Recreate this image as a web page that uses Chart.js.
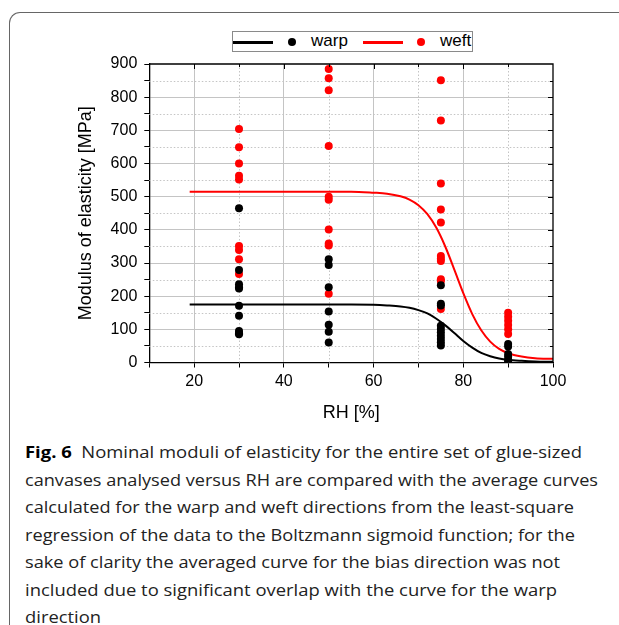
<!DOCTYPE html>
<html>
<head>
<meta charset="utf-8">
<script src="https://cdn.jsdelivr.net/npm/chart.js@4.4.1/dist/chart.umd.min.js"></script>
<style>
  html, body { margin: 0; padding: 0; background: #fff; }
  body { width: 619px; height: 625px; position: relative; overflow: hidden; }
  #frame {
    position: absolute; left: 9px; top: 12px; width: 640px; height: 640px;
    border-left: 1.5px solid #666; border-top: 1.5px solid #666;
    border-top-left-radius: 11px;
  }
  #chartBox { position: absolute; left: 0; top: 0; width: 619px; height: 430px; }
  #legend {
    position: absolute; left: 232px; top: 31px; width: 239px; height: 19px;
    border: 1px solid #8a8a8a; background: #fff;
    font-family: "Liberation Sans", Arial, sans-serif; font-size: 17px; color: #000;
  }
  #legend .ln { position: absolute; top: 9px; width: 40px; height: 2.5px; }
  #legend .dot { position: absolute; top: 6px; width: 8px; height: 8px; border-radius: 50%; }
  #legend .lab { position: absolute; top: -1px; line-height: 20px; }
  #caption {
    position: absolute; left: 25px; top: 438px;
    font-family: "Open Sans", "Noto Sans", sans-serif; font-size: 16.5px; color: #222;
  }
  #caption div { white-space: nowrap; height: 27.5px; line-height: 27.5px; transform-origin: 0 50%; }
  #caption b { font-weight: 700; color: #000; }
</style>
</head>
<body>
<div id="frame"></div>
<div id="chartBox"><canvas id="rhChart" width="619" height="430"></canvas></div>
<div id="legend">
  <div class="ln" style="left:0;background:#000"></div>
  <div class="dot" style="left:55px;background:#000"></div>
  <div class="lab" style="left:78px">warp</div>
  <div class="ln" style="left:130px;background:#f00"></div>
  <div class="dot" style="left:184px;background:#f00"></div>
  <div class="lab" style="left:207px">weft</div>
</div>
<div id="caption">
  <div data-w="557"><b>Fig. 6</b>&nbsp; Nominal moduli of elasticity for the entire set of glue-sized</div>
  <div data-w="573">canvases analysed versus RH are compared with the average curves</div>
  <div data-w="549">calculated for the warp and weft directions from the least-square</div>
  <div data-w="550">regression of the data to the Boltzmann sigmoid function; for the</div>
  <div data-w="535">sake of clarity the averaged curve for the bias direction was not</div>
  <div data-w="532">included due to significant overlap with the curve for the warp</div>
  <div data-w="76">direction</div>
</div>
<script>
// RH levels where the canvases were measured
const rhLevels = [30, 50, 75, 90];

// measured moduli [MPa] per RH level
const warp30 = [465, 279, 236, 227, 223, 171, 141, 95, 88, 85];
const warp50 = [311, 294, 227, 154, 114, 93, 60];
const warp75 = [233, 177, 172, 111, 101, 91, 81, 71, 61, 51];
const warp90 = [56, 48, 26, 18, 8, 3];

const weft30 = [704, 649, 600, 563, 552, 351, 339, 311, 267];
const weft50 = [885, 857, 821, 653, 500, 491, 401, 359, 353, 207];
const weft75 = [851, 730, 540, 461, 422, 321, 313, 306, 251, 246, 161];
const weft90 = [150, 138, 126, 113, 100, 86];

// average curves (Boltzmann fit)
const curveRH   = [19, 30, 40, 50, 55, 60, 63, 66, 68, 70, 72, 74, 76, 78, 80, 82, 84, 86, 88, 90, 93, 96, 100];
const warpCurve = [175, 175, 175, 175, 175, 174, 172, 169, 165, 158, 148, 132, 112, 89, 65, 45, 29, 19, 12, 8, 5, 3, 2];
const weftCurve = [515, 515, 515, 515, 515, 512, 509, 501, 491, 474, 447, 406, 349, 280, 209, 146, 97, 63, 41, 28, 18, 13, 11];

const xTicks = [20, 40, 60, 80, 100];
const yTicks = [0, 100, 200, 300, 400, 500, 600, 700, 800, 900];

const toPoints = (groups) => {
    const pts = [];
    groups.forEach((vals, i) => {
        vals.forEach(v => pts.push({ x: rhLevels[i], y: v }));
    });
    return pts;
};

const toCurve = (xs, ys) => xs.map((x, i) => ({ x: x, y: ys[i] }));

const isMajorX = (v) => v % 20 === 0;
const isMajorY = (v) => v % 100 === 0;

// dotted minor grid + mirrored top/right axis with inward ticks
const framePlugin = {
    id: 'framePlugin',
    beforeDatasetsDraw(chart) {
        const { ctx, chartArea: a, scales } = chart;
        ctx.save();
        ctx.strokeStyle = '#c4c4c4';
        ctx.lineWidth = 1;
        ctx.setLineDash([1.5, 2]);
        for (let v = 30; v < 100; v += 20) {
            const px = Math.round(scales.x.getPixelForValue(v)) + 0.5;
            ctx.beginPath(); ctx.moveTo(px, a.top); ctx.lineTo(px, a.bottom); ctx.stroke();
        }
        for (let v = 50; v < 900; v += 100) {
            const py = Math.round(scales.y.getPixelForValue(v)) + 0.5;
            ctx.beginPath(); ctx.moveTo(a.left, py); ctx.lineTo(a.right, py); ctx.stroke();
        }
        ctx.restore();
    },
    afterDraw(chart) {
        const { ctx, chartArea: a, scales } = chart;
        ctx.save();
        ctx.strokeStyle = '#000';
        ctx.lineWidth = 1.3;
        ctx.beginPath();
        ctx.moveTo(a.left, a.top); ctx.lineTo(a.right, a.top); ctx.lineTo(a.right, a.bottom);
        ctx.stroke();
        ctx.lineWidth = 1;
        for (let v = 20; v < 100; v += 10) {
            const px = Math.round(scales.x.getPixelForValue(v)) + 0.5;
            const len = isMajorX(v) ? 5 : 3;
            ctx.beginPath(); ctx.moveTo(px, a.top); ctx.lineTo(px, a.top + len); ctx.stroke();
        }
        for (let v = 50; v < 900; v += 50) {
            const py = Math.round(scales.y.getPixelForValue(v)) + 0.5;
            const len = isMajorY(v) ? 5 : 3;
            ctx.beginPath(); ctx.moveTo(a.right, py); ctx.lineTo(a.right - len, py); ctx.stroke();
        }
        ctx.restore();
    }
};

const ctx = document.getElementById('rhChart');

new Chart(ctx, {
    type: 'scatter',
    data: {
        datasets: [
            {
                label: 'warp',
                data: toPoints([warp30, warp50, warp75, warp90]),
                backgroundColor: '#000',
                borderColor: '#000',
                pointRadius: 4,
                pointBorderWidth: 0
            },
            {
                label: 'weft',
                data: toPoints([weft30, weft50, weft75, weft90]),
                backgroundColor: '#ff0000',
                borderColor: '#ff0000',
                pointRadius: 4,
                pointBorderWidth: 0
            },
            {
                label: 'warp fit',
                data: toCurve(curveRH, warpCurve),
                showLine: true,
                borderColor: '#000',
                borderWidth: 2,
                pointRadius: 0,
                cubicInterpolationMode: 'monotone'
            },
            {
                label: 'weft fit',
                data: toCurve(curveRH, weftCurve),
                showLine: true,
                borderColor: '#ff0000',
                borderWidth: 2,
                pointRadius: 0,
                cubicInterpolationMode: 'monotone'
            }
        ]
    },
    options: {
        responsive: false,
        animation: false,
        layout: { padding: { top: 64, right: 66, bottom: 0, left: 0 } },
        plugins: {
            legend: { display: false },
            tooltip: { enabled: false }
        },
        scales: {
            x: {
                type: 'linear',
                min: 10,
                max: 100,
                afterFit: (scale) => { scale.height = 67.5; },
                afterBuildTicks: (scale) => {
                    const t = [];
                    for (let v = 10; v <= 100; v += 10) t.push({ value: v });
                    scale.ticks = t;
                },
                ticks: {
                    autoSkip: false,
                    maxRotation: 0,
                    padding: 4,
                    color: '#000',
                    font: { family: '"Liberation Sans", Arial, sans-serif', size: 16 },
                    callback: (v) => (xTicks.includes(v) ? String(v) : '')
                },
                grid: {
                    color: (c) => (c.tick && isMajorX(c.tick.value) && c.tick.value < 100 ? '#c4c4c4' : 'rgba(0,0,0,0)'),
                    tickColor: '#000',
                    tickLength: 5
                },
                border: { color: '#000', width: 1.3 },
                title: {
                    display: true,
                    text: 'RH [%]',
                    color: '#000',
                    font: { family: '"Liberation Sans", Arial, sans-serif', size: 18 },
                    padding: { top: 0, bottom: 6 }
                }
            },
            y: {
                min: 0,
                max: 900,
                afterFit: (scale) => { scale.width = 149.3; },
                afterBuildTicks: (scale) => {
                    const t = [];
                    for (let v = 0; v <= 900; v += 50) t.push({ value: v });
                    scale.ticks = t;
                },
                ticks: {
                    autoSkip: false,
                    padding: 7,
                    color: '#000',
                    font: { family: '"Liberation Sans", Arial, sans-serif', size: 16 },
                    callback: (v) => (yTicks.includes(v) ? String(v) : '')
                },
                grid: {
                    color: (c) => (c.tick && isMajorY(c.tick.value) && c.tick.value > 0 && c.tick.value < 900 ? '#c4c4c4' : 'rgba(0,0,0,0)'),
                    tickColor: '#000',
                    tickLength: 5
                },
                border: { color: '#000', width: 1.3 },
                title: {
                    display: true,
                    text: 'Modulus of elasticity [MPa]',
                    color: '#000',
                    font: { family: '"Liberation Sans", Arial, sans-serif', size: 18 },
                    padding: { top: 75, bottom: 0 }
                }
            }
        }
    },
    plugins: [framePlugin]
});

// squeeze / stretch each caption line to the measured width
document.querySelectorAll('#caption div').forEach(line => {
    const target = parseFloat(line.dataset.w);
    const w = line.scrollWidth;
    line.style.display = 'inline-block';
    const real = line.getBoundingClientRect().width;
    line.style.display = 'block';
    line.style.transform = `scaleX(${target / real})`;
});
</script>
</body>
</html>
